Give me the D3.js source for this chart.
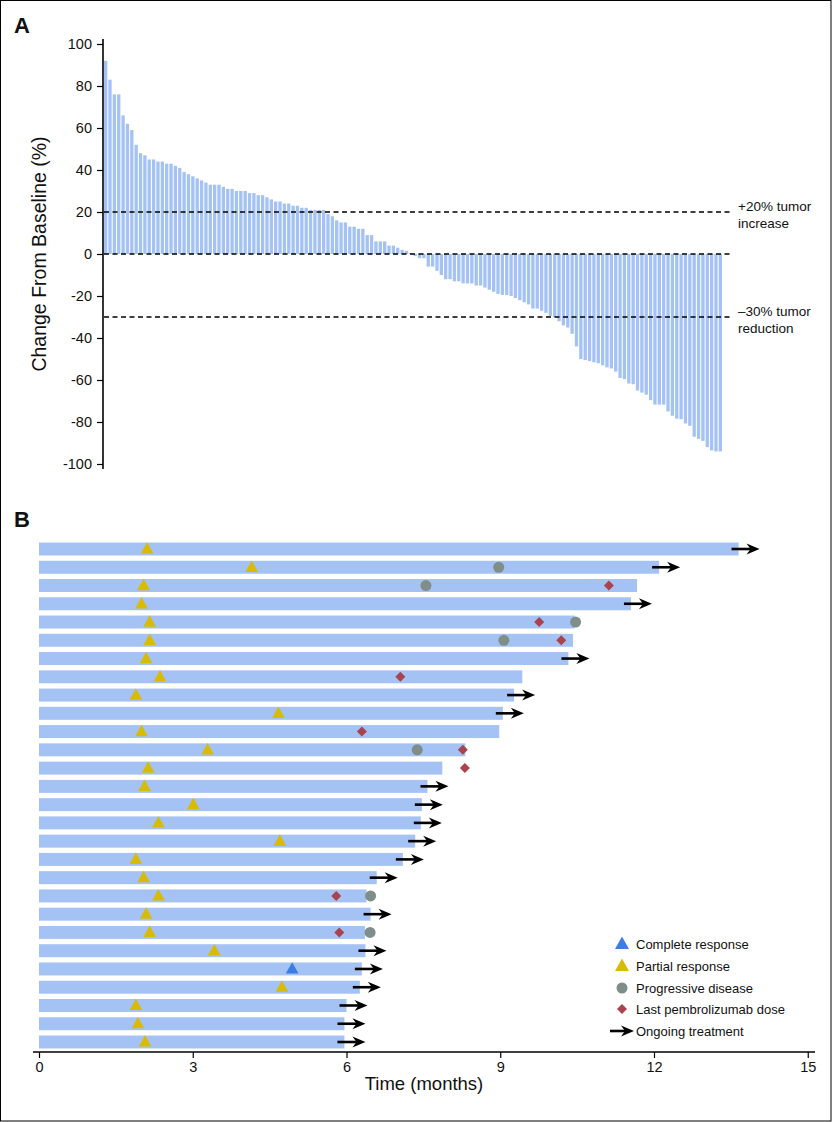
<!DOCTYPE html>
<html><head><meta charset="utf-8">
<script src="https://cdn.jsdelivr.net/npm/d3@7"></script>
<style>
body{margin:0;background:#fff}
svg{display:block}
text{font-family:"Liberation Sans",Arial,Helvetica,sans-serif;fill:#111}
</style>
</head><body>
<svg id="chart" width="834" height="1122"></svg>
<script>
// ---------- Panel A data ----------
const changeFromBaseline = [
  92, 83, 76, 76, 66, 62, 59, 52, 48, 47, 45, 45, 44, 44, 43, 43, 42, 41, 39, 38,
  37, 36, 35, 34, 33, 33, 33, 32, 31, 31, 30, 30, 30, 29, 29, 28, 28, 27, 26, 25,
  25, 24, 24, 23, 23, 22, 22, 21, 21, 21, 21, 19, 18, 16, 15, 15, 13, 13, 12, 12,
  9, 9, 6, 6, 6, 4, 4, 3, 2, 1.5, 0.5,
  -1, -2, -2, -6, -6, -8, -10, -12, -12, -13, -13, -14, -14, -14, -15, -15, -16, -17, -18,
  -19, -19.5, -19.5, -20, -21, -22, -23, -24, -26, -26, -27, -28, -29.5, -30, -32, -34,
  -35, -38, -44, -50, -50.5, -51, -51.6, -52, -53, -54, -54.5, -56, -59, -59.6, -61.7,
  -62, -65, -66, -67, -69.6, -71.7, -71.7, -71.7, -75, -77, -78.4, -78.7, -80.7, -81.8,
  -87, -88, -89, -92, -93.5, -94, -94
];
const yTicksA = [100, 80, 60, 40, 20, 0, -20, -40, -60, -80, -100];
const refValues = [20, 0, -30];
const refLabels = [["+20% tumor", "increase"], null, ["\u201330% tumor", "reduction"]];

// ---------- Panel B data ----------
const treatmentEnd = [13.65, 12.10, 11.67, 11.55, 10.45, 10.42, 10.33, 9.43, 9.27, 9.05,
  8.98, 8.32, 7.87, 7.58, 7.47, 7.45, 7.34, 7.10, 6.59, 6.39, 6.47, 6.36, 6.37, 6.30,
  6.26, 6.00, 5.96, 5.96];
const ongoing = [1, 1, 0, 1, 0, 0, 1, 0, 1, 1, 0, 0, 0, 1, 1, 1, 1, 1, 1, 0, 1, 0, 1, 1, 1, 1, 1, 1];
const responseTime = [2.11, 4.15, 2.04, 2.00, 2.16, 2.16, 2.09, 2.36, 1.89, 4.67, 2.00, 3.29,
  2.13, 2.06, 3.01, 2.33, 4.70, 1.89, 2.04, 2.33, 2.09, 2.16, 3.42, 4.94, 4.74, 1.89, 1.93, 2.07];
const responseType = ["PR","PR","PR","PR","PR","PR","PR","PR","PR","PR","PR","PR","PR","PR",
  "PR","PR","PR","PR","PR","PR","PR","PR","PR","CR","PR","PR","PR","PR"];
const progressionTime = [null, 8.97, 7.55, null, 10.47, 9.07, null, null, null, null, null, 7.38,
  null, null, null, null, null, null, null, 6.47, null, 6.46, null, null, null, null, null, null];
const lastDoseTime = [null, null, 11.12, null, 9.76, 10.19, null, 7.05, null, null, 6.30, 8.27,
  8.31, null, null, null, null, null, null, 5.80, null, 5.86, null, null, null, null, null, null];
const xTicksB = [0, 3, 6, 9, 12, 15];
const legendItems = ["Complete response", "Partial response", "Progressive disease",
  "Last pembrolizumab dose", "Ongoing treatment"];

// ---------- styles ----------
const barColor = "#a4c2f4";
const colCR = "#3b7de3", colPR = "#d8bb05", colPD = "#7f8d8b", colLD = "#a8434f";

const svg = d3.select("#chart");

// frame
svg.append("rect").attr("x", 0.5).attr("y", 0.5).attr("width", 830.5).attr("height", 1120.5)
  .attr("fill", "none").attr("stroke", "#000").attr("stroke-width", 1);

// ================= Panel A =================
const xA = d3.scaleBand().domain(d3.range(changeFromBaseline.length))
  .range([104, 722]).paddingInner(0.24).paddingOuter(0);
const yA = d3.scaleLinear().domain([-100, 100]).range([464, 44]);

svg.append("text").attr("x", 14).attr("y", 33).attr("font-size", 22)
  .attr("font-weight", "bold").text("A");

const gA = svg.append("g");
gA.selectAll("rect.bar").data(changeFromBaseline).join("rect")
  .attr("class", "bar")
  .attr("x", (d, i) => xA(i))
  .attr("width", xA.bandwidth())
  .attr("y", d => yA(Math.max(0, d)))
  .attr("height", d => Math.abs(yA(d) - yA(0)))
  .attr("fill", barColor);

// reference lines
const xEndRef = 733;
refValues.forEach((v, k) => {
  gA.append("line").attr("x1", 104).attr("x2", xEndRef)
    .attr("y1", yA(v)).attr("y2", yA(v))
    .attr("stroke", "#000").attr("stroke-width", 1.5).attr("stroke-dasharray", "5,3.5");
  const lab = refLabels[k];
  if (lab) {
    gA.append("text").attr("x", 738).attr("y", yA(v) - 1).attr("font-size", 13.5).text(lab[0]);
    gA.append("text").attr("x", 738).attr("y", yA(v) + 15.5).attr("font-size", 13.5).text(lab[1]);
  }
});

// y axis
const axA = d3.axisLeft(yA).tickValues(yTicksA).tickSize(6).tickPadding(5)
  .tickFormat(d => String(d));
const gAx = svg.append("g").attr("transform", "translate(103,0)").call(axA);
gAx.select(".domain").remove();
gAx.append("line").attr("x1", 0).attr("x2", 0).attr("y1", 39).attr("y2", 469)
  .attr("stroke", "#000").attr("stroke-width", 1.6);
gAx.selectAll(".tick line").attr("stroke", "#000").attr("stroke-width", 1.2);
gAx.selectAll(".tick text").attr("font-size", 14.5).attr("fill", "#111")
  .attr("font-family", "'Liberation Sans',Arial,sans-serif");

svg.append("text")
  .attr("transform", `translate(46,${yA(0)}) rotate(-90)`)
  .attr("text-anchor", "middle").attr("font-size", 19.5)
  .text("Change From Baseline (%)");

// ================= Panel B =================
svg.append("text").attr("x", 14).attr("y", 527).attr("font-size", 22)
  .attr("font-weight", "bold").text("B");

const rows = d3.range(treatmentEnd.length);
const xB = d3.scaleLinear().domain([0, 15]).range([39, 807.75]);
const yB = d3.scaleBand().domain(rows).range([539.87, 1051.13])
  .paddingInner(0.29).paddingOuter(0.145);
const cy = i => yB(i) + yB.bandwidth() / 2;

const gB = svg.append("g");
gB.selectAll("rect.tb").data(rows).join("rect")
  .attr("class", "tb")
  .attr("x", xB(0)).attr("y", i => yB(i))
  .attr("width", i => xB(treatmentEnd[i]) - xB(0))
  .attr("height", yB.bandwidth())
  .attr("fill", barColor);

// symbols
const triPath = (x, y, s) => `M${x},${y - s * 0.62}L${x + s * 0.58},${y + s * 0.42}L${x - s * 0.58},${y + s * 0.42}Z`;
const diaPath = (x, y, s) => `M${x},${y - s}L${x + s},${y}L${x},${y + s}L${x - s},${y}Z`;
const arrowPath = (x0, y, len) => {
  const tip = x0 + len;
  return {
    line: `M${x0},${y}L${tip - 8},${y}`,
    head: `M${tip},${y}L${tip - 13},${y - 5.5}L${tip - 9},${y}L${tip - 13},${y + 5.5}Z`
  };
};

rows.forEach(i => {
  const y = cy(i);
  gB.append("path").attr("d", triPath(xB(responseTime[i]), y, 11))
    .attr("fill", responseType[i] === "CR" ? colCR : colPR);
  if (progressionTime[i] != null)
    gB.append("circle").attr("cx", xB(progressionTime[i])).attr("cy", y).attr("r", 5.5).attr("fill", colPD);
  if (lastDoseTime[i] != null)
    gB.append("path").attr("d", diaPath(xB(lastDoseTime[i]), y, 5)).attr("fill", colLD);
  if (ongoing[i]) {
    const a = arrowPath(xB(treatmentEnd[i]) - 7, y, 28);
    gB.append("path").attr("d", a.line).attr("stroke", "#000").attr("stroke-width", 2.6).attr("fill", "none");
    gB.append("path").attr("d", a.head).attr("fill", "#000");
  }
});

// x axis
const axB = d3.axisBottom(xB).tickValues(xTicksB).tickSize(6).tickPadding(4).tickSizeOuter(0);
const gBx = svg.append("g").attr("transform", "translate(0,1052)").call(axB);
gBx.select(".domain").remove();
gBx.append("line").attr("x1", 33).attr("x2", 815).attr("y1", 0).attr("y2", 0)
  .attr("stroke", "#000").attr("stroke-width", 1.6);
gBx.selectAll(".tick line").attr("stroke", "#000").attr("stroke-width", 1.2);
gBx.selectAll(".tick text").attr("font-size", 14.5).attr("fill", "#111")
  .attr("font-family", "'Liberation Sans',Arial,sans-serif");
svg.append("text").attr("x", 424).attr("y", 1090).attr("text-anchor", "middle")
  .attr("font-size", 18.5).text("Time (months)");

// legend
const legY = [944, 966, 988, 1009, 1031];
const gL = svg.append("g");
legendItems.forEach((t, k) => {
  const y = legY[k], x = 622;
  if (k === 0) gL.append("path").attr("d", triPath(x, y, 12)).attr("fill", colCR);
  if (k === 1) gL.append("path").attr("d", triPath(x, y, 12)).attr("fill", colPR);
  if (k === 2) gL.append("circle").attr("cx", x).attr("cy", y).attr("r", 5.5).attr("fill", colPD);
  if (k === 3) gL.append("path").attr("d", diaPath(x, y, 5)).attr("fill", colLD);
  if (k === 4) {
    const a = arrowPath(610, y, 24);
    gL.append("path").attr("d", a.line).attr("stroke", "#000").attr("stroke-width", 2.6);
    gL.append("path").attr("d", a.head).attr("fill", "#000");
  }
  gL.append("text").attr("x", 636).attr("y", y + 4.5).attr("font-size", 13).text(t);
});
</script>
</body></html>
